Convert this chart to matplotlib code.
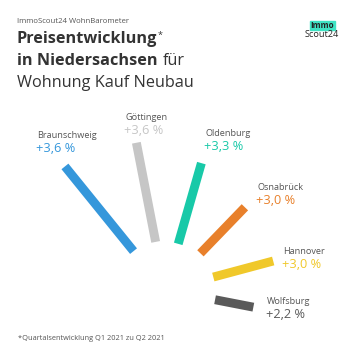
import numpy as np
import matplotlib
matplotlib.use("Agg")
import matplotlib.pyplot as plt

plt.rcParams["font.family"] = ["Open Sans", "DejaVu Sans"]

# Daten
cities = ["Braunschweig", "Göttingen", "Oldenburg", "Osnabrück", "Hannover", "Wolfsburg"]
labels = ["+3,6 %", "+3,6 %", "+3,3 %", "+3,0 %", "+3,0 %", "+2,2 %"]
angle_deg = [129, 101, 74, 46, 15, -11]
bar_inner = [50, 49, 48, 51, 50, 51]
bar_outer = [159, 150, 132, 115, 112, 90]
colors = ["#3597db", "#c6c6c6", "#18c9a8", "#e8802b", "#f0c82a", "#5a5a5a"]

# Label-Positionen in Pixeln (x links, y Mitte Name)
label_x = [37, 125, 205, 257, 283, 267]
label_y = [136, 118, 134, 188, 252, 302]

W = H = 360
fig = plt.figure(figsize=(3.6, 3.6), dpi=100)
fig.patch.set_facecolor("white")

# Polarachse: Zentrum bei (165, 290) px, Radius in Pixeln
cx, cy, R = 165, 290, 170
ax = fig.add_axes([(cx - R) / W, (H - cy - R) / H, 2 * R / W, 2 * R / H], projection="polar")
ax.set_ylim(0, R)
ax.axis("off")
ax.patch.set_alpha(0)

for a, r0, r1, c in zip(angle_deg, bar_inner, bar_outer, colors):
    t = np.deg2rad(a)
    ax.plot([t, t], [r0, r1], color=c, lw=6.4, solid_capstyle="butt")


def px(x, y):
    return x / W, 1 - y / H


renderer = fig.canvas.get_renderer()


def right_px(txt):
    return txt.get_window_extent(renderer).x1


for name, lab, x, y, c in zip(cities, labels, label_x, label_y, colors):
    fig.text(*px(x, y), name, fontsize=6.6, color="#555555", va="center", ha="left")
    fig.text(*px(x - 1, y + 12.5), lab, fontsize=9.2, color=c, va="center", ha="left")

# Kopf
fig.text(*px(17, 21.5), "ImmoScout24 WohnBarometer", fontsize=5.6, color="#555555", va="center")
t1 = fig.text(*px(17, 43.3), "Preisentwicklung", fontsize=11.7, fontweight="bold",
              color="#333333", va="baseline")
fig.text(right_px(t1) / W + 0.002, 1 - 35 / H, "*", fontsize=6.5, color="#333333", va="center")
t2 = fig.text(*px(17, 65), "in Niedersachsen", fontsize=11.7, fontweight="bold",
              color="#333333", va="baseline")
fig.text(right_px(t2) / W + 0.013, 1 - 65 / H, "für", fontsize=11.7, color="#333333", va="baseline")
fig.text(*px(17, 86.7), "Wohnung Kauf Neubau", fontsize=11.7, color="#333333", va="baseline")

# Logo
fig.patches.append(plt.Rectangle(px(310, 29.5), 25 / W, 8 / H, transform=fig.transFigure,
                                 color="#3fe3c3", zorder=0))
fig.text(*px(322.5, 25.5), "Immo", fontsize=5.8, fontweight="bold", color="#222222",
         ha="center", va="center")
fig.text(*px(321.5, 34.5), "Scout24", fontsize=6.6, color="#222222", ha="center", va="center")

# Fussnote
fig.text(*px(18, 339), "*Quartalsentwicklung Q1 2021 zu Q2 2021", fontsize=5.3, color="#555555", va="center")

fig.savefig("out.png", dpi=100, facecolor="white")
